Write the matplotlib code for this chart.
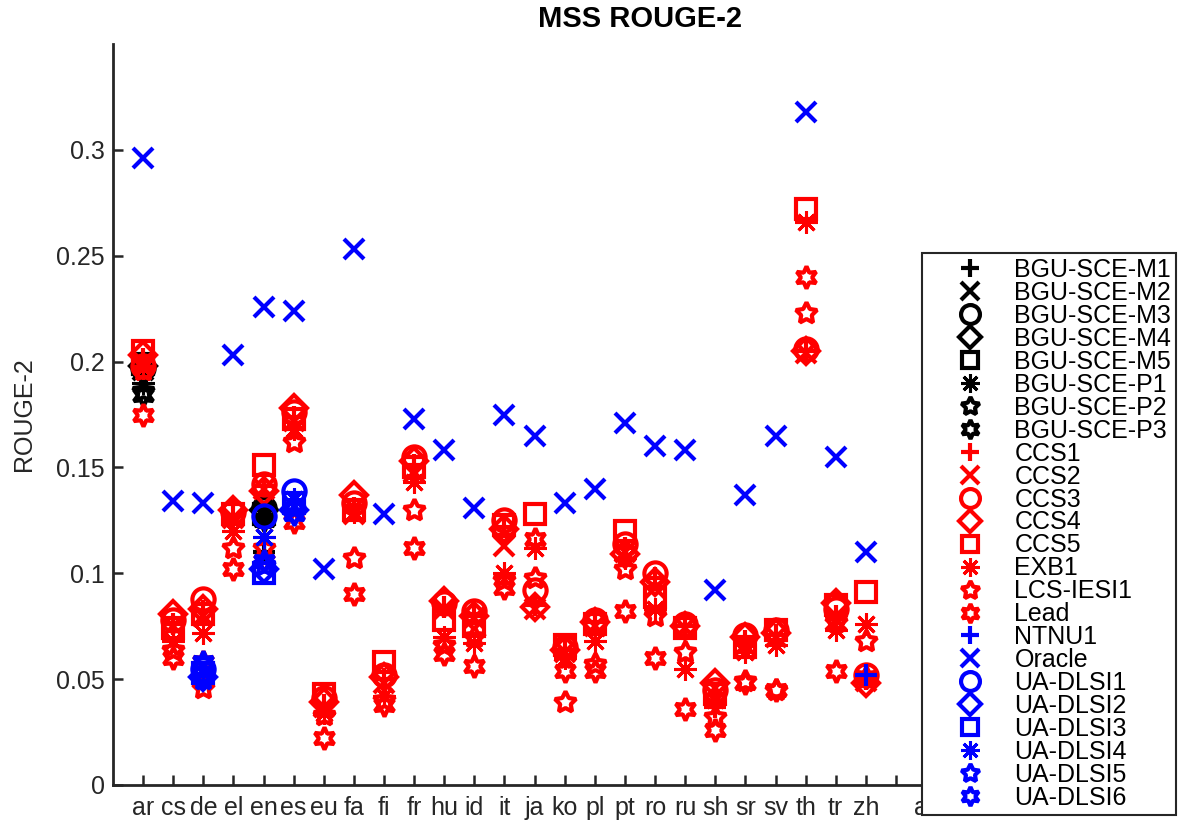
import numpy as np
import matplotlib
matplotlib.use('Agg')
import matplotlib.pyplot as plt

plt.rcParams['font.family'] = ['Liberation Sans', 'DejaVu Sans']

# languages on the x axis
langs = ['ar', 'cs', 'de', 'el', 'en', 'es', 'eu', 'fa', 'fi', 'fr', 'hu', 'id', 'it',
         'ja', 'ko', 'pl', 'pt', 'ro', 'ru', 'sh', 'sr', 'sv', 'th', 'tr', 'zh']
bgu_langs = ['ar', 'en']
ua_langs = ['de', 'en', 'es']
ntnu_langs = ['zh']

# BGU-SCE runs (ar, en)
bgu_m1 = [0.195, 0.110]
bgu_m2 = [0.196, 0.129]
bgu_m3 = [0.197, 0.131]
bgu_m4 = [0.198, 0.130]
bgu_m5 = [0.199, 0.128]
bgu_p1 = [0.190, 0.127]
bgu_p2 = [0.186, 0.126]
bgu_p3 = [0.184, 0.125]

# runs over all languages
ccs1 = [0.201, 0.076, 0.082, 0.127, 0.141, 0.174, 0.038, 0.131, 0.050, 0.151, 0.084, 0.081, 0.122,
        0.085, 0.064, 0.077, 0.112, 0.098, 0.075, 0.037, 0.068, 0.071, 0.205, 0.080, 0.050]
ccs2 = [0.200, 0.075, 0.080, 0.126, 0.140, 0.172, 0.037, 0.128, 0.048, 0.148, 0.083, 0.079, 0.113,
        0.083, 0.063, 0.075, 0.110, 0.093, 0.074, 0.046, 0.066, 0.070, 0.204, 0.078, 0.049]
ccs3 = [0.198, 0.078, 0.088, 0.129, 0.142, 0.176, 0.041, 0.133, 0.052, 0.155, 0.086, 0.082, 0.125,
        0.092, 0.065, 0.078, 0.114, 0.100, 0.076, 0.045, 0.071, 0.073, 0.206, 0.083, 0.052]
ccs4 = [0.203, 0.081, 0.083, 0.130, 0.139, 0.178, 0.039, 0.137, 0.051, 0.153, 0.087, 0.080, 0.121,
        0.084, 0.064, 0.077, 0.109, 0.096, 0.075, 0.048, 0.070, 0.072, 0.205, 0.086, 0.048]
ccs5 = [0.205, 0.074, 0.081, 0.128, 0.151, 0.173, 0.043, 0.130, 0.058, 0.150, 0.078, 0.075, 0.123,
        0.128, 0.066, 0.076, 0.120, 0.089, 0.074, 0.043, 0.065, 0.073, 0.272, 0.085, 0.091]
exb1 = [0.197, 0.068, 0.072, 0.120, 0.117, 0.168, 0.034, 0.129, 0.042, 0.143, 0.070, 0.067, 0.100,
        0.112, 0.060, 0.068, 0.107, 0.083, 0.055, 0.040, 0.063, 0.066, 0.266, 0.073, 0.076]
lcs_iesi1 = [0.196, 0.064, 0.046, 0.112, 0.112, 0.162, 0.033, 0.107, 0.040, 0.130, 0.066, 0.070, 0.097,
             0.098, 0.039, 0.057, 0.102, 0.080, 0.063, 0.032, 0.049, 0.045, 0.223, 0.077, 0.068]
lead = [0.175, 0.060, 0.058, 0.102, 0.106, 0.124, 0.022, 0.090, 0.038, 0.112, 0.062, 0.056, 0.093,
        0.116, 0.054, 0.054, 0.082, 0.060, 0.036, 0.026, 0.048, 0.045, 0.240, 0.054, 0.051]
oracle = [0.296, 0.134, 0.133, 0.203, 0.226, 0.224, 0.102, 0.253, 0.128, 0.173, 0.158, 0.131, 0.175,
          0.165, 0.133, 0.140, 0.171, 0.160, 0.158, 0.092, 0.137, 0.165, 0.318, 0.155, 0.110]

ntnu1 = [0.052]

# UA-DLSI runs (de, en, es)
ua1 = [0.055, 0.127, 0.139]
ua2 = [0.051, 0.102, 0.130]
ua3 = [0.053, 0.100, 0.133]
ua4 = [0.053, 0.117, 0.135]
ua5 = [0.050, 0.104, 0.131]
ua6 = [0.058, 0.106, 0.128]

star_ast = (8, 2, 0)
star5 = (5, 1, 0)
star6 = (6, 1, 0)

series = [
    ('BGU-SCE-M1', bgu_langs, bgu_m1, '+', 'k'),
    ('BGU-SCE-M2', bgu_langs, bgu_m2, 'x', 'k'),
    ('BGU-SCE-M3', bgu_langs, bgu_m3, 'o', 'k'),
    ('BGU-SCE-M4', bgu_langs, bgu_m4, 'D', 'k'),
    ('BGU-SCE-M5', bgu_langs, bgu_m5, 's', 'k'),
    ('BGU-SCE-P1', bgu_langs, bgu_p1, star_ast, 'k'),
    ('BGU-SCE-P2', bgu_langs, bgu_p2, star5, 'k'),
    ('BGU-SCE-P3', bgu_langs, bgu_p3, star6, 'k'),
    ('CCS1', langs, ccs1, '+', 'r'),
    ('CCS2', langs, ccs2, 'x', 'r'),
    ('CCS3', langs, ccs3, 'o', 'r'),
    ('CCS4', langs, ccs4, 'D', 'r'),
    ('CCS5', langs, ccs5, 's', 'r'),
    ('EXB1', langs, exb1, star_ast, 'r'),
    ('LCS-IESI1', langs, lcs_iesi1, star5, 'r'),
    ('Lead', langs, lead, star6, 'r'),
    ('NTNU1', ntnu_langs, ntnu1, '+', 'b'),
    ('Oracle', langs, oracle, 'x', 'b'),
    ('UA-DLSI1', ua_langs, ua1, 'o', 'b'),
    ('UA-DLSI2', ua_langs, ua2, 'D', 'b'),
    ('UA-DLSI3', ua_langs, ua3, 's', 'b'),
    ('UA-DLSI4', ua_langs, ua4, star_ast, 'b'),
    ('UA-DLSI5', ua_langs, ua5, star5, 'b'),
    ('UA-DLSI6', ua_langs, ua6, star6, 'b'),
]

col = {'k': '#000000', 'r': '#ff0000', 'b': '#0000ff'}
msize = {'o': 16, 'D': 13, 's': 14, 'x': 15, '+': 16}

fig = plt.figure(figsize=(11.92, 8.23), dpi=100)
ax = fig.add_axes([113 / 1192, 38 / 823, 1054 / 1192, 741 / 823])

for name, ll, vals, mk, c in series:
    xs = [langs.index(l) + 1 for l in ll]
    size = msize.get(mk, 16) if isinstance(mk, str) else 16
    mew = 2.2 if mk == star_ast else 3.0
    ax.plot(xs, vals, linestyle='none', marker=mk, color=col[c],
            markerfacecolor='none', markeredgecolor=col[c],
            markersize=size, markeredgewidth=mew, label=name)

ax.set_xlim(0, 35)
ax.set_ylim(0, 0.35)
ax.set_xticks(range(1, 28))
ax.set_xticklabels(langs + ['', 'all'])
ax.set_yticks([0, 0.05, 0.1, 0.15, 0.2, 0.25, 0.3])
ax.set_yticklabels(['0', '0.05', '0.1', '0.15', '0.2', '0.25', '0.3'])
ax.tick_params(direction='in', length=7, width=1.8, labelsize=18, colors='#262626', pad=6)
ax.tick_params(axis='x', pad=8)
for s in ['top', 'right']:
    ax.spines[s].set_visible(False)
for s in ['left', 'bottom']:
    ax.spines[s].set_linewidth(2)
    ax.spines[s].set_color('#262626')

ax.set_ylabel('ROUGE-2', fontsize=18, color='#262626', labelpad=14)
ax.set_title('MSS ROUGE-2', fontsize=21, fontweight='bold', pad=12)

leg = ax.legend(loc='upper left', bbox_to_anchor=(922 / 1192, 1 - 253 / 823),
                bbox_transform=fig.transFigure, borderaxespad=0, fontsize=18,
                labelspacing=-0.042, handlelength=3.4, handletextpad=0.1,
                borderpad=0.2, fancybox=False, framealpha=1, markerscale=0.85)
leg.get_frame().set_edgecolor('#262626')
leg.get_frame().set_linewidth(1.5)

fig.savefig('out.png', dpi=100)
